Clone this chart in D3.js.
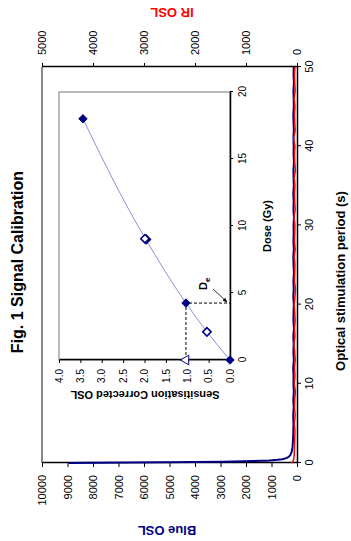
<!DOCTYPE html>
<html>
<head>
<meta charset="utf-8">
<script src="https://cdn.jsdelivr.net/npm/d3@7"></script>
<style>
  body { margin: 0; background: #fff; }
  text { font-family: "Liberation Sans", Arial, sans-serif; }
</style>
</head>
<body>
<div id="chart"></div>
<script>
// blue OSL decay curve (counts) vs time (s)
var blueTime = [0, 0.08, 0.16, 0.24, 0.32, 0.4, 0.48, 0.56, 0.64, 0.72, 0.8, 0.9, 1.0, 1.2, 1.4, 1.7, 2.0, 2.5, 3, 3.5,
  4, 5, 6, 7, 8, 9, 10, 11, 12, 13, 14, 15, 16, 17, 18, 19, 20, 21, 22, 23, 24, 25, 26, 27, 28, 29, 30,
  31, 32, 33, 34, 35, 36, 37, 38, 39, 40, 41, 42, 43, 44, 45, 46, 47, 48, 49, 50];
var blueOSL = [8950, 5100, 2900, 1700, 1080, 760, 580, 470, 400, 355, 320, 290, 265, 235, 210, 190, 175, 165, 155, 150,
  145, 140, 150, 130, 145, 125, 140, 135, 150, 125, 140, 130, 145, 120, 140, 135, 125, 145, 130, 140, 120, 135, 145, 125, 140, 130, 135,
  120, 140, 130, 145, 125, 135, 140, 120, 135, 130, 140, 125, 135, 145, 125, 130, 140, 120, 135, 130];

// IR OSL curve (counts)
var irTime = [0, 0.2, 0.5, 1, 2, 3, 4, 5, 6, 7, 8, 9, 10, 11, 12, 13, 14, 15, 16, 17, 18, 19, 20, 21, 22, 23, 24, 25,
  26, 27, 28, 29, 30, 31, 32, 33, 34, 35, 36, 37, 38, 39, 40, 41, 42, 43, 44, 45, 46, 47, 48, 49, 50];
var irOSL = [110, 80, 65, 55, 50, 45, 40, 55, 35, 50, 45, 30, 55, 40, 50, 35, 45, 60, 40, 50, 35, 45, 55, 40, 30, 50,
  45, 40, 55, 35, 50, 45, 40, 60, 35, 45, 50, 40, 55, 30, 45, 50, 40, 65, 35, 45, 50, 40, 55, 35, 45, 50, 40];

// inset: dose response
var fitDose = [0, 2.1, 4.25, 9.0, 18.0];
var fitOSL = [0, 0.54, 1.03, 1.97, 3.44];
var filledDose = [0, 4.25, 18.0];
var filledOSL = [0, 1.03, 3.44];
var openDose = [2.1, 9.0, 9.05];
var openOSL = [0.54, 1.96, 1.99];
var naturalOSL = 1.03;
var deValue = 4.25;

var blueTicks = [0, 1000, 2000, 3000, 4000, 5000, 6000, 7000, 8000, 9000, 10000];
var irTicks = [0, 1000, 2000, 3000, 4000, 5000];
var timeTicks = [0, 10, 20, 30, 40, 50];
var doseTicks = [0, 5, 10, 15, 20];
var oslTicks = [0, 0.5, 1, 1.5, 2, 2.5, 3, 3.5, 4];

var svg = d3.select("#chart").append("svg")
  .attr("width", 351)
  .attr("height", 541);

// the chart is drawn landscape (541 x 351) and turned a quarter turn
var g = svg.append("g").attr("transform", "translate(0,541) rotate(-90)");

var x = d3.scaleLinear().domain([0, 50]).range([78, 474]);
var yBlue = d3.scaleLinear().domain([0, 10000]).range([297, 42]);
var yIR = d3.scaleLinear().domain([0, 5000]).range([297, 42]);

// frame top
g.append("line")
  .attr("x1", 78).attr("x2", 474).attr("y1", 42).attr("y2", 42)
  .attr("stroke", "#888").attr("stroke-width", 2);

function styleAxis(sel, size) {
  sel.selectAll("text").attr("font-size", size).attr("fill", "#000")
    .style("font-family", "'Liberation Sans', Arial, sans-serif");
  sel.selectAll("line").attr("stroke", "#000");
  sel.select(".domain").attr("stroke", "#000").attr("stroke-width", 1.5);
}

g.append("g").attr("transform", "translate(78,0)")
  .call(d3.axisLeft(yBlue).tickValues(blueTicks).tickFormat(d3.format("d")).tickSize(4).tickSizeOuter(0).tickPadding(8))
  .call(styleAxis, 11);

g.append("g").attr("transform", "translate(474,0)")
  .call(d3.axisRight(yIR).tickValues(irTicks).tickFormat(d3.format("d")).tickSize(4).tickSizeOuter(0).tickPadding(8))
  .call(styleAxis, 11);

g.append("g").attr("transform", "translate(0,297)")
  .call(d3.axisBottom(x).tickValues(timeTicks).tickSize(4).tickSizeOuter(0).tickPadding(4))
  .call(styleAxis, 11);

var lineBlue = d3.line().x(function (d, i) { return x(blueTime[i]); }).y(function (d) { return yBlue(d); });
var lineIR = d3.line().x(function (d, i) { return x(irTime[i]); }).y(function (d) { return yIR(d); });

g.append("path").datum(blueOSL)
  .attr("fill", "none").attr("stroke", "#000080").attr("stroke-width", 2)
  .attr("stroke-linejoin", "round").attr("d", lineBlue);

g.append("path").datum(irOSL)
  .attr("fill", "none").attr("stroke", "#ff0000").attr("stroke-width", 1.5)
  .attr("stroke-linejoin", "round").attr("d", lineIR);

// titles
g.append("text").attr("x", 279).attr("y", 23).attr("text-anchor", "middle")
  .attr("font-size", 16).attr("font-weight", "bold").text("Fig. 1 Signal Calibration");

g.append("text").attr("x", 260).attr("y", 345).attr("text-anchor", "middle")
  .attr("font-size", 13).attr("font-weight", "bold").text("Optical stimulation period (s)");

g.append("text").attr("transform", "translate(15.5,167) rotate(-90)").attr("text-anchor", "middle")
  .attr("font-size", 13).attr("font-weight", "bold").attr("fill", "#000080").text("Blue OSL");

g.append("text").attr("transform", "translate(533.5,172) rotate(-90)").attr("text-anchor", "middle")
  .attr("font-size", 13).attr("font-weight", "bold").attr("fill", "#ff0000").text("IR OSL");

// inset
var xD = d3.scaleLinear().domain([0, 20]).range([181, 449]);
var yS = d3.scaleLinear().domain([0, 4]).range([230, 59]);

var inset = g.append("g");
inset.append("rect").attr("x", 181).attr("y", 59).attr("width", 268).attr("height", 171)
  .attr("fill", "#fff").attr("stroke", "#777").attr("stroke-width", 1);

inset.append("g").attr("transform", "translate(0,230)")
  .call(d3.axisBottom(xD).tickValues(doseTicks).tickSize(3).tickSizeOuter(0).tickPadding(6))
  .call(styleAxis, 10);

inset.append("g").attr("transform", "translate(181,0)")
  .call(d3.axisLeft(yS).tickValues(oslTicks).tickFormat(d3.format(".1f")).tickSize(3).tickSizeOuter(0).tickPadding(6))
  .call(styleAxis, 10);

inset.append("text").attr("x", 315).attr("y", 271).attr("text-anchor", "middle")
  .attr("font-size", 11).attr("font-weight", "bold").text("Dose (Gy)");

inset.append("text").attr("transform", "translate(150,145) rotate(-90)").attr("text-anchor", "middle")
  .attr("font-size", 11).attr("font-weight", "bold").text("Sensitisation Corrected OSL");

var fitLine = d3.line().curve(d3.curveMonotoneX)
  .x(function (d, i) { return xD(fitDose[i]); }).y(function (d) { return yS(d); });

inset.append("path").datum(fitOSL)
  .attr("fill", "none").attr("stroke", "#8f8fd8").attr("stroke-width", 1).attr("d", fitLine);

// De construction
inset.append("path")
  .attr("d", "M" + xD(0) + "," + yS(naturalOSL) + "L" + xD(deValue) + "," + yS(naturalOSL) + "L" + xD(deValue) + "," + yS(0))
  .attr("fill", "none").attr("stroke", "#000").attr("stroke-width", 1).attr("stroke-dasharray", "3,2");

// square diamond like the spreadsheet marker
var diamond = "M0,-4.2L4.2,0L0,4.2L-4.2,0Z";

inset.selectAll(".open").data(openOSL).enter().append("path")
  .attr("transform", function (d, i) { return "translate(" + xD(openDose[i]) + "," + yS(d) + ")"; })
  .attr("d", diamond).attr("fill", "#fff").attr("stroke", "#000080").attr("stroke-width", 1.6);

inset.selectAll(".filled").data(filledOSL).enter().append("path")
  .attr("transform", function (d, i) { return "translate(" + xD(filledDose[i]) + "," + yS(d) + ")"; })
  .attr("d", diamond).attr("fill", "#000080").attr("stroke", "#000080").attr("stroke-width", 1);

inset.append("path")
  .attr("transform", "translate(" + xD(0) + "," + yS(naturalOSL) + ")")
  .attr("d", d3.symbol().type(d3.symbolTriangle).size(40))
  .attr("fill", "#fff").attr("stroke", "#000080").attr("stroke-width", 1);

// De label and arrow
var defs = svg.append("defs");
defs.append("marker").attr("id", "arr").attr("viewBox", "0 0 10 10").attr("refX", 9).attr("refY", 5)
  .attr("markerWidth", 6).attr("markerHeight", 6).attr("orient", "auto")
  .append("path").attr("d", "M0,1L10,5L0,9z").attr("fill", "#000");

var deText = inset.append("text").attr("x", 251).attr("y", 207).attr("font-size", 11).attr("font-weight", "bold");
deText.append("tspan").text("D");
deText.append("tspan").attr("font-size", 8).attr("dy", 3).text("e");

inset.append("line").attr("x1", 252).attr("y1", 213).attr("x2", xD(deValue) + 1).attr("y2", 227)
  .attr("stroke", "#000").attr("stroke-width", 0.8).attr("marker-end", "url(#arr)");
</script>
</body>
</html>
